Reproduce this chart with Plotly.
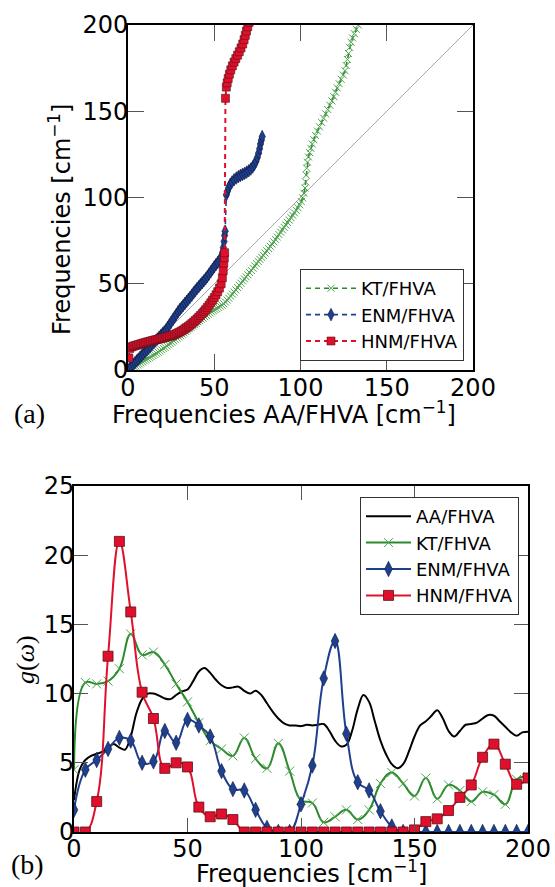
import plotly.graph_objects as go

# ---------------- (a) mode-frequency correlation ----------------
kt_x = [0.5, 1.5, 2.5, 3.5, 4.5, 5.5, 6.5, 7.5, 8.5, 9.5, 10.5, 11.5, 12.5, 13.5, 14.5, 15.5,
        16.5, 17.5, 18.5, 19.5, 20.5, 21.5, 22.5, 23.5, 24.5, 25.5, 26.5, 27.5, 28.5, 29.5,
        30.5, 31.5, 32.5, 33.5, 34.5, 35.5, 36.5, 37.5, 38.5, 39.5, 40.5, 41.5, 42.5, 43.5,
        44.5, 45.5, 46.5, 47.5, 48.5, 49.5, 50.5, 51.5, 52.5, 53.5, 54.5, 55.5, 56.5, 57.5,
        58.5, 59.5, 60.5, 61.5, 62.5, 63.5, 64.5, 65.5, 66.5, 67.5, 68.5, 69.5, 70.5, 71.5,
        72.5, 73.5, 74.5, 75.5, 76.5, 77.5, 78.5, 79.5, 80.5, 81.5, 82.5, 83.5, 84.5, 85.5,
        86.5, 87.5, 88.5, 89.5, 90.5, 91.5, 92.5, 93.5, 94.5, 95.5, 96.5, 97.5, 98.5, 99.5,
        100.5, 101.3, 102.0, 102.6, 103.0, 103.3, 103.6, 104.0, 104.6, 105.3, 106.0, 106.8,
        107.7, 108.7, 109.8, 111.0, 112.2, 113.4, 114.6, 115.8, 117.0, 118.2, 119.3, 120.3,
        121.3, 122.4, 123.6, 124.8, 125.8, 126.5, 127.2, 127.8, 128.5, 129.3, 130.2, 131.2,
        132.3, 133.5, 135.0]
kt_y = [0.4, 1.0, 1.5, 2.0, 2.4, 3.0, 3.5, 4.2, 4.7, 5.3, 5.9, 6.5, 7.1, 7.7, 8.4, 9.0,
        9.7, 10.3, 11.0, 11.7, 12.5, 13.1, 13.9, 14.6, 15.4, 16.1, 16.9, 17.6, 18.4, 19.1,
        19.9, 20.7, 21.5, 22.3, 23.1, 23.9, 24.7, 25.5, 26.3, 27.0, 27.9, 28.6, 29.4, 30.1,
        30.9, 31.6, 32.3, 33.0, 33.7, 34.4, 35.0, 35.6, 36.3, 37.0, 37.6, 38.4, 39.4, 40.5,
        41.6, 42.8, 44.0, 45.2, 46.5, 47.8, 49.1, 50.3, 51.6, 52.8, 54.0, 55.2, 56.5, 57.7,
        59.0, 60.3, 61.6, 62.9, 64.1, 65.3, 66.5, 67.8, 69.1, 70.4, 71.7, 73.0, 74.3, 75.7,
        77.1, 78.5, 79.9, 81.3, 82.7, 84.1, 85.5, 86.9, 88.3, 89.7, 91.1, 92.6, 94.1, 95.8,
        97.6, 99.8, 102.5, 105.5, 109.0, 113.0, 117.0, 120.5, 123.5, 126.0, 128.5, 131.0,
        133.5, 136.0, 138.5, 141.0, 143.5, 146.0, 148.5, 151.0, 153.5, 156.0, 158.5, 161.0,
        163.5, 166.0, 168.5, 171.0, 173.5, 176.5, 180.0, 183.5, 187.0, 190.0, 192.5, 195.0,
        197.5, 200.0, 203.0]

enm_x = [0, 1, 2, 3, 4, 5, 6, 7, 8, 9, 10, 11, 12, 13, 14, 15, 16, 17, 18, 19, 20, 21, 22,
         23, 24, 25, 26, 27, 28, 29, 30, 31, 32, 33, 34, 35, 36, 37, 38, 39, 40, 41, 42, 43,
         44, 45, 46, 47, 48, 49, 50, 51, 52, 53, 54, 54.8, 55.3, 55.7, 56.0, 56.3, 57.0, 57.6,
         58.3, 59.2, 60.3, 61.5, 62.8, 64.0, 65.2, 66.4, 67.6, 68.8, 70.0, 71.2, 72.3, 73.3,
         74.2, 75.0, 75.7, 76.3, 76.8, 77.3, 77.8]
enm_y = [0, 1.1, 2.1, 3.2, 4.2, 5.3, 6.3, 7.4, 8.4, 9.5, 10.5, 11.6, 12.7, 13.7, 14.8, 15.8,
         16.9, 17.9, 19.0, 20.0, 21.1, 22.1, 23.2, 24.7, 26.2, 27.7, 29.2, 30.7, 32.2, 33.7,
         35.0, 36.2, 37.4, 38.6, 39.8, 41.0, 42.2, 43.4, 44.7, 45.9, 47.2, 48.3, 49.5, 50.6,
         51.7, 52.9, 54.2, 55.6, 57.0, 58.4, 59.8, 61.1, 62.3, 63.6, 65.5, 68.0, 71.0, 74.5,
         78.0, 80.5, 101.5, 103.5, 105.5, 107.5, 109.0, 110.3, 111.3, 112.1, 112.8, 113.4,
         114.0, 114.7, 115.5, 116.5, 117.7, 119.2, 121.0, 123.2, 125.7, 128.3, 131.0, 133.2,
         135.3]

hnm_x = [0.5, 1, 2, 3, 4, 5, 6, 7, 8, 9, 10, 11, 12, 13, 14, 15, 16, 17, 18, 19, 20, 21, 22,
         23, 24, 25, 26, 27, 28, 29, 30, 31, 32, 33, 34, 35, 36, 37, 38, 39, 40, 41, 42, 43,
         44, 45, 46, 47, 48, 49, 50, 51, 52, 53, 54, 54.7, 55.2, 55.5, 55.8, 56.0, 56.5, 57.0,
         57.5, 58.1, 58.8, 59.6, 60.5, 61.5, 62.5, 63.5, 64.5, 65.5, 66.5, 67.3, 68.0, 68.7,
         69.4, 70.2]
hnm_y = [7.0, 12.5, 13.4, 13.8, 14.1, 14.4, 14.7, 15.0, 15.3, 15.6, 15.9, 16.2, 16.4, 16.7,
         17.0, 17.2, 17.5, 17.7, 18.0, 18.2, 18.5, 18.7, 19.0, 19.3, 19.6, 19.9, 20.2, 20.6,
         21.0, 21.5, 22.0, 22.6, 23.2, 23.9, 24.6, 25.3, 26.1, 26.9, 27.8, 28.7, 29.6, 30.6,
         31.6, 32.7, 33.8, 35.0, 36.3, 37.6, 39.0, 40.5, 42.0, 43.6, 45.4, 47.5, 50.0, 53.5,
         57.5, 62.0, 65.0, 68.0, 157.5, 164.0, 166.5, 169.0, 171.5, 174.0, 176.3, 178.5,
         180.5, 182.5, 184.5, 186.7, 189.0, 191.5, 194.0, 196.5, 199.0, 201.5]

diag = [0, 200]

# ---------------- (b) vibrational density of states ----------------
aa_w = [0, 2.5, 5, 7.5, 10, 12.5, 15, 17.5, 20, 22.5, 25, 27.5, 30, 32.5, 35, 37.5, 40, 42.5,
        45, 47.5, 50, 52.5, 55, 57.5, 60, 62.5, 65, 67.5, 70, 72.5, 75, 77.5, 80, 82.5, 85,
        87.5, 90, 92.5, 95, 97.5, 100, 102.5, 105, 107.5, 110, 112.5, 115, 117.5, 120, 122.5,
        125, 127.5, 130, 132.5, 135, 137.5, 140, 142.5, 145, 147.5, 150, 152.5, 155, 157.5,
        160, 162.5, 165, 167.5, 170, 172.5, 175, 177.5, 180, 182.5, 185, 187.5, 190, 192.5,
        195, 197.5, 200]
aa_g = [2.3, 4.5, 5.2, 5.5, 5.65, 5.8, 6.1, 6.35, 6.1, 5.95, 6.9, 8.6, 9.6, 10.0, 10.0, 9.85,
        9.65, 9.6, 9.9, 10.15, 10.3, 10.9, 11.6, 11.85, 11.5, 11.0, 10.6, 10.4, 10.45, 10.5,
        10.2, 10.0, 10.2, 9.9, 9.3, 8.7, 8.2, 7.85, 7.7, 7.7, 7.65, 7.75, 7.7, 7.75, 7.8, 7.3,
        6.6, 6.2, 6.3, 7.3, 8.9, 9.9, 9.4, 8.0, 6.6, 5.6, 4.9, 4.6, 4.9, 5.8, 6.9, 7.7, 8.0,
        8.4, 8.8, 8.2, 7.3, 6.9, 7.3, 7.75, 7.8, 7.9, 8.2, 8.45, 8.4, 8.0, 7.6, 7.2, 6.95,
        7.2, 7.25]

w = [0, 5, 10, 15, 20, 25, 30, 35, 40, 45, 50, 55, 60, 65, 70, 75, 80, 85, 90, 95, 100,
     105, 110, 115, 120, 125, 130, 135, 140, 145, 150, 155, 160, 165, 170, 175, 180, 185,
     190, 195, 200]
kt_g = [4.5, 10.8, 10.7, 10.9, 11.8, 14.3, 12.8, 13.0, 12.1, 10.7, 9.4, 7.9, 6.6, 6.0, 5.5,
        6.8, 5.3, 4.6, 6.4, 4.4, 2.3, 2.1, 0.7, 1.1, 1.6, 0.9, 1.6, 3.5, 4.3, 3.5, 2.6, 3.9,
        2.4, 3.4, 3.0, 2.2, 2.9, 2.7, 2.0, 3.8, 4.0]
enm_g = [1.6, 4.5, 5.2, 6.0, 6.8, 6.6, 5.0, 5.1, 7.3, 6.45, 8.1, 7.7, 6.9, 4.4, 3.1, 3.0,
         1.6, 0.3, 0.0, 0.0, 2.0, 4.8, 11.1, 13.8, 7.1, 3.6, 3.0, 1.5, 0.4, 0.0, 0.0, 0.0,
         0.0, 0.0, 0.0, 0.0, 0.0, 0.0, 0.0, 0.0, 0.0]
hnm_g = [0.0, 0.0, 2.2, 12.7, 21.0, 15.9, 10.1, 8.2, 4.6, 5.0, 4.7, 1.8, 1.1, 1.3, 0.9, 0.0,
         0.0, 0.0, 0.0, 0.0, 0.0, 0.0, 0.0, 0.0, 0.0, 0.0, 0.0, 0.0, 0.0, 0.0, 0.15, 0.75,
         0.95, 1.55, 2.5, 3.4, 5.4, 6.35, 4.9, 3.45, 3.9]

ticks_a = [0, 50, 100, 150, 200]
ticks_b_y = [0, 5, 10, 15, 20, 25]

GREEN = "#2b8a2b"
GREEN_MK = "#4fa34f"
BLUE = "#1f3f8f"
RED = "#e0102c"
W, H = 555, 887

fig = go.Figure()

# (a)
fig.add_trace(go.Scatter(x=diag, y=diag, mode="lines", line=dict(color="#a8a8a8", width=1),
                         showlegend=False, hoverinfo="skip", xaxis="x", yaxis="y"))
fig.add_trace(go.Scatter(x=kt_x, y=kt_y, mode="lines+markers", name="KT/FHVA",
                         line=dict(color=GREEN, width=1.6, dash="5px,4px"),
                         marker=dict(symbol="x-thin", size=7, line=dict(color=GREEN_MK, width=1)),
                         xaxis="x", yaxis="y", legend="legend"))
fig.add_trace(go.Scatter(x=enm_x, y=enm_y, mode="lines+markers", name="ENM/FHVA",
                         line=dict(color=BLUE, width=1.6, dash="5px,4px"),
                         marker=dict(symbol="diamond-tall", size=9, color=BLUE,
                                     line=dict(color="#0b1838", width=0.6)),
                         xaxis="x", yaxis="y", legend="legend"))
fig.add_trace(go.Scatter(x=hnm_x, y=hnm_y, mode="lines+markers", name="HNM/FHVA",
                         line=dict(color=RED, width=2, dash="5px,4px"),
                         marker=dict(symbol="square", size=8, color=RED,
                                     line=dict(color="#5a1018", width=0.6)),
                         xaxis="x", yaxis="y", legend="legend"))

# (b)
fig.add_trace(go.Scatter(x=aa_w, y=aa_g, mode="lines", name="AA/FHVA",
                         line=dict(color="black", width=2, shape="spline", smoothing=1.0),
                         xaxis="x2", yaxis="y2", legend="legend2"))
fig.add_trace(go.Scatter(x=w, y=kt_g, mode="lines+markers", name="KT/FHVA",
                         line=dict(color=GREEN, width=2, shape="spline", smoothing=1.2),
                         marker=dict(symbol="x-thin", size=9, line=dict(color=GREEN_MK, width=1)),
                         xaxis="x2", yaxis="y2", legend="legend2"))
fig.add_trace(go.Scatter(x=w, y=enm_g, mode="lines+markers", name="ENM/FHVA",
                         line=dict(color=BLUE, width=2, shape="spline", smoothing=1.2),
                         marker=dict(symbol="diamond-tall", size=11, color=BLUE,
                                     line=dict(color="#0b1838", width=0.6)),
                         xaxis="x2", yaxis="y2", legend="legend2"))
fig.add_trace(go.Scatter(x=w, y=hnm_g, mode="lines+markers", name="HNM/FHVA",
                         line=dict(color=RED, width=2, shape="spline", smoothing=1.2),
                         marker=dict(symbol="square", size=10, color=RED,
                                     line=dict(color="#5a1018", width=0.8)),
                         xaxis="x2", yaxis="y2", legend="legend2"))

FONT = "DejaVu Sans"
axis_common = dict(showline=True, linecolor="black", linewidth=2, mirror="ticks",
                   ticks="inside", tickcolor="#555", tickwidth=1, showgrid=False,
                   zeroline=False, automargin=False,
                   tickfont=dict(family=FONT, size=24, color="black"))


def px_x(p):
    return p / W


def px_y(p):
    return 1 - p / H


fig.update_layout(
    width=W, height=H, margin=dict(l=0, r=0, t=0, b=0),
    paper_bgcolor="white", plot_bgcolor="white",
    font=dict(family=FONT, color="black"),
    xaxis=dict(domain=[px_x(128), px_x(473)], anchor="y", range=[0, 200],
               tickvals=ticks_a, ticklen=16, ticklabelstandoff=-5, **axis_common),
    yaxis=dict(domain=[px_y(370), px_y(25)], anchor="x", range=[0, 200],
               tickvals=ticks_a, ticklen=16, ticklabelstandoff=-7, **axis_common),
    xaxis2=dict(domain=[px_x(74), px_x(528)], anchor="y2", range=[0, 200],
                tickvals=ticks_a, ticklen=14, ticklabelstandoff=-6, **axis_common),
    yaxis2=dict(domain=[px_y(832), px_y(486)], anchor="x2", range=[0, 25],
                tickvals=ticks_b_y, ticklen=14, ticklabelstandoff=-7, **axis_common),
    legend=dict(x=px_x(464), y=px_y(361), xanchor="right", yanchor="bottom",
                bgcolor="white", bordercolor="#333", borderwidth=1,
                font=dict(family=FONT, size=18), itemwidth=50, tracegroupgap=0),
    legend2=dict(x=px_x(519), y=px_y(497), xanchor="right", yanchor="top",
                 bgcolor="white", bordercolor="#333", borderwidth=1,
                 font=dict(family=FONT, size=18), itemwidth=45, tracegroupgap=0),
)

ann = [
    dict(text="Frequencies AA/FHVA [cm<sup>−1</sup>]", x=px_x(284), y=px_y(413),
         font=dict(family=FONT, size=24)),
    dict(text="Frequencies [cm<sup>−1</sup>]", x=px_x(60), y=px_y(220), textangle=-90,
         font=dict(family=FONT, size=24)),
    dict(text="(a)", x=px_x(29), y=px_y(413), font=dict(family="Liberation Serif", size=28)),
    dict(text="Frequencies [cm<sup>−1</sup>]", x=px_x(311), y=px_y(872),
         font=dict(family=FONT, size=24)),
    dict(text="<i>g</i>(<i>ω</i>)", x=px_x(25), y=px_y(660), textangle=-90,
         font=dict(family="Liberation Serif", size=26)),
    dict(text="(b)", x=px_x(27), y=px_y(864), font=dict(family="Liberation Serif", size=28)),
]
for a in ann:
    fig.add_annotation(xref="paper", yref="paper", showarrow=False,
                       xanchor="center", yanchor="middle", **a)

fig.write_html("out.html")
